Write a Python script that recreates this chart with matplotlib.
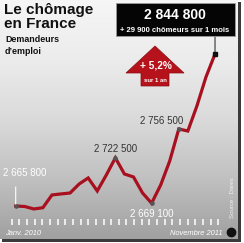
import numpy as np
import matplotlib
matplotlib.use("Agg")
import matplotlib.pyplot as plt
from matplotlib.patches import Polygon, Rectangle

plt.rcParams['font.family'] = ['Liberation Sans', 'DejaVu Sans']

# demandeurs d'emploi, janvier 2010 -> novembre 2011 (mensuel)
mois = ['Janv. 2010', 'Févr.', 'Mars', 'Avr.', 'Mai', 'Juin', 'Juil.', 'Août', 'Sept.',
        'Oct.', 'Nov.', 'Déc.', 'Janv. 2011', 'Févr.', 'Mars', 'Avr.', 'Mai', 'Juin',
        'Juil.', 'Août', 'Sept.', 'Oct.', 'Novembre 2011']
demandeurs = [2665800, 2665200, 2662300, 2663800, 2678800, 2680000, 2681100, 2691700,
              2698800, 2683500, 2702300, 2722500, 2703500, 2700000, 2681100, 2669100,
              2690500, 2718800, 2756500, 2754100, 2783600, 2817700, 2844800]
labels_pts = {0: "2 665 800", 11: "2 722 500", 15: "2 669 100", 18: "2 756 500"}
titre = ["Le chômage", "en France"]
sous_titre = ["Demandeurs", "d’emploi"]
total = "2 844 800"
variation_mois = "+ 29 900 chômeurs sur 1 mois"
variation_an = "+ 5,2%"

W, H = 244, 243

def px(x, y):
    return (x / W, 1 - y / H)

fig = plt.figure(figsize=(2.44, 2.43), dpi=100)
fig.patch.set_facecolor('white')

# fond dégradé + ombre
bg = fig.add_axes([0, 0, 1, 1])
bg.set_axis_off()
bg.set_xlim(0, W)
bg.set_ylim(H, 0)
rows = np.linspace(0, 239, 240)
shade = np.interp(rows, [0, 60, 120, 180, 239], [246, 236, 218, 192, 160]) / 255
grad = np.repeat(shade[:, None], 2, axis=1)
bg.imshow(np.dstack([grad, grad, grad]), extent=(0, 238, 239, 0), aspect='auto', interpolation='bilinear')
bg.add_patch(Rectangle((238, 2), 3, 240, color='#3a3a3a', lw=0))
bg.add_patch(Rectangle((2, 239), 239, 3, color='#3a3a3a', lw=0))

# graduations (dans le repère pixel du fond)
x0 = 15.7
step = 9.06
graduations_px = np.linspace(11.7, 218.3, 28)
bg.vlines(graduations_px, 219, 225, colors='white', lw=1.1, zorder=5)

ax = fig.add_axes([0, 0, 1, 1])
ax.set_facecolor('none')
ax.set_axis_off()
x = np.arange(len(demandeurs))
vpp = 1177.6
ax.set_xlim(-x0 / step, (W - x0) / step)
ax.set_ylim(demandeurs[0] - (H - 206) * vpp, demandeurs[0] + 206 * vpp)

ax.plot(x, demandeurs, color='#a8101f', lw=2.3, solid_joinstyle='miter', zorder=3)
for i in labels_pts:
    ax.plot(x[i], demandeurs[i], 'o', ms=2.3, color='#555555', zorder=4)
ax.plot(x[-1], demandeurs[-1], 's', ms=2.6, color='#111111', zorder=4)

# étiquettes
ax.annotate(labels_pts[0], (x[0], demandeurs[0]), xytext=(-9, 20), textcoords='offset points',
            color='white', fontsize=7, ha='left', va='bottom')
ax.annotate('', xy=(x[0], demandeurs[0]), xytext=(x[0], demandeurs[0] + 19 * vpp),
            arrowprops=dict(arrowstyle='-', color='white', lw=0.8, shrinkA=0, shrinkB=0))
ax.annotate(labels_pts[11], (x[11], demandeurs[11]), xytext=(0, 3), textcoords='offset points',
            color='#333333', fontsize=7, ha='center', va='bottom')
ax.annotate(labels_pts[15], (x[15], demandeurs[15]), xytext=(0, -4), textcoords='offset points',
            color='white', fontsize=7, ha='center', va='top')
ax.annotate(labels_pts[18], (x[18], demandeurs[18]), xytext=(3, 2), textcoords='offset points',
            color='#333333', fontsize=7, ha='right', va='bottom')

# titres
ax.text(*px(4, 10), titre[0], transform=ax.transAxes, fontsize=11, fontweight='bold',
        color='#111111', va='center', ha='left')
ax.text(*px(4, 24), titre[1], transform=ax.transAxes, fontsize=11, fontweight='bold',
        color='#111111', va='center', ha='left')
ax.text(*px(5, 40), sous_titre[0], transform=ax.transAxes, fontsize=6.4, fontweight='bold',
        color='#111111', va='center', ha='left')
ax.text(*px(5, 51), sous_titre[1], transform=ax.transAxes, fontsize=6.4, fontweight='bold',
        color='#111111', va='center', ha='left')

# encadré noir
bx, by = px(116, 36)
ax.add_patch(Rectangle((bx, by), 119 / W, 33 / H, transform=ax.transAxes,
                       facecolor='#050505', edgecolor='#9a9a9a', lw=0.6, zorder=5))
ax.text(*px(175, 15), total, transform=ax.transAxes, fontsize=10, fontweight='bold',
        color='white', ha='center', va='center', zorder=6)
ax.text(*px(175, 30), variation_mois, transform=ax.transAxes, fontsize=5.5, fontweight='bold',
        color='white', ha='center', va='center', zorder=6)
ax.annotate('', xy=(x[-1], demandeurs[-1]), xytext=(x[-1], 1 - 36 / H),
            textcoords=('data', 'axes fraction'),
            arrowprops=dict(arrowstyle='-', color='#333333', lw=0.8, shrinkA=0, shrinkB=0))

# flèche rouge
fleche = [px(155, 46), px(184, 73), px(169, 73), px(169, 86), px(141, 86), px(141, 73), px(126, 73)]
ax.add_patch(Polygon(fleche, closed=True, transform=ax.transAxes, facecolor='#b5121b',
                     edgecolor='#8a0c14', lw=0.5, zorder=5))
ax.text(*px(156, 65), variation_an, transform=ax.transAxes, fontsize=7.3, fontweight='bold',
        color='white', ha='center', va='center', zorder=6)
ax.text(*px(155, 80), "sur 1 an", transform=ax.transAxes, fontsize=4.3, fontweight='bold',
        color='white', ha='center', va='center', zorder=6)

# bas
ax.text(*px(5, 233), mois[0], transform=ax.transAxes, fontsize=5.4, style='italic',
        color='white', ha='left', va='center')
ax.text(*px(222, 233), mois[-1], transform=ax.transAxes, fontsize=5.4, style='italic',
        color='white', ha='right', va='center')
ax.text(*px(232, 198), "Source : Dares", transform=ax.transAxes, fontsize=4.4, rotation=90,
        color='#f0f0f0', ha='center', va='center')
ax.plot(*px(230.5, 232), 'o', ms=6, color='#111111', transform=ax.transAxes, clip_on=False)

fig.savefig('out.png', dpi=100)
